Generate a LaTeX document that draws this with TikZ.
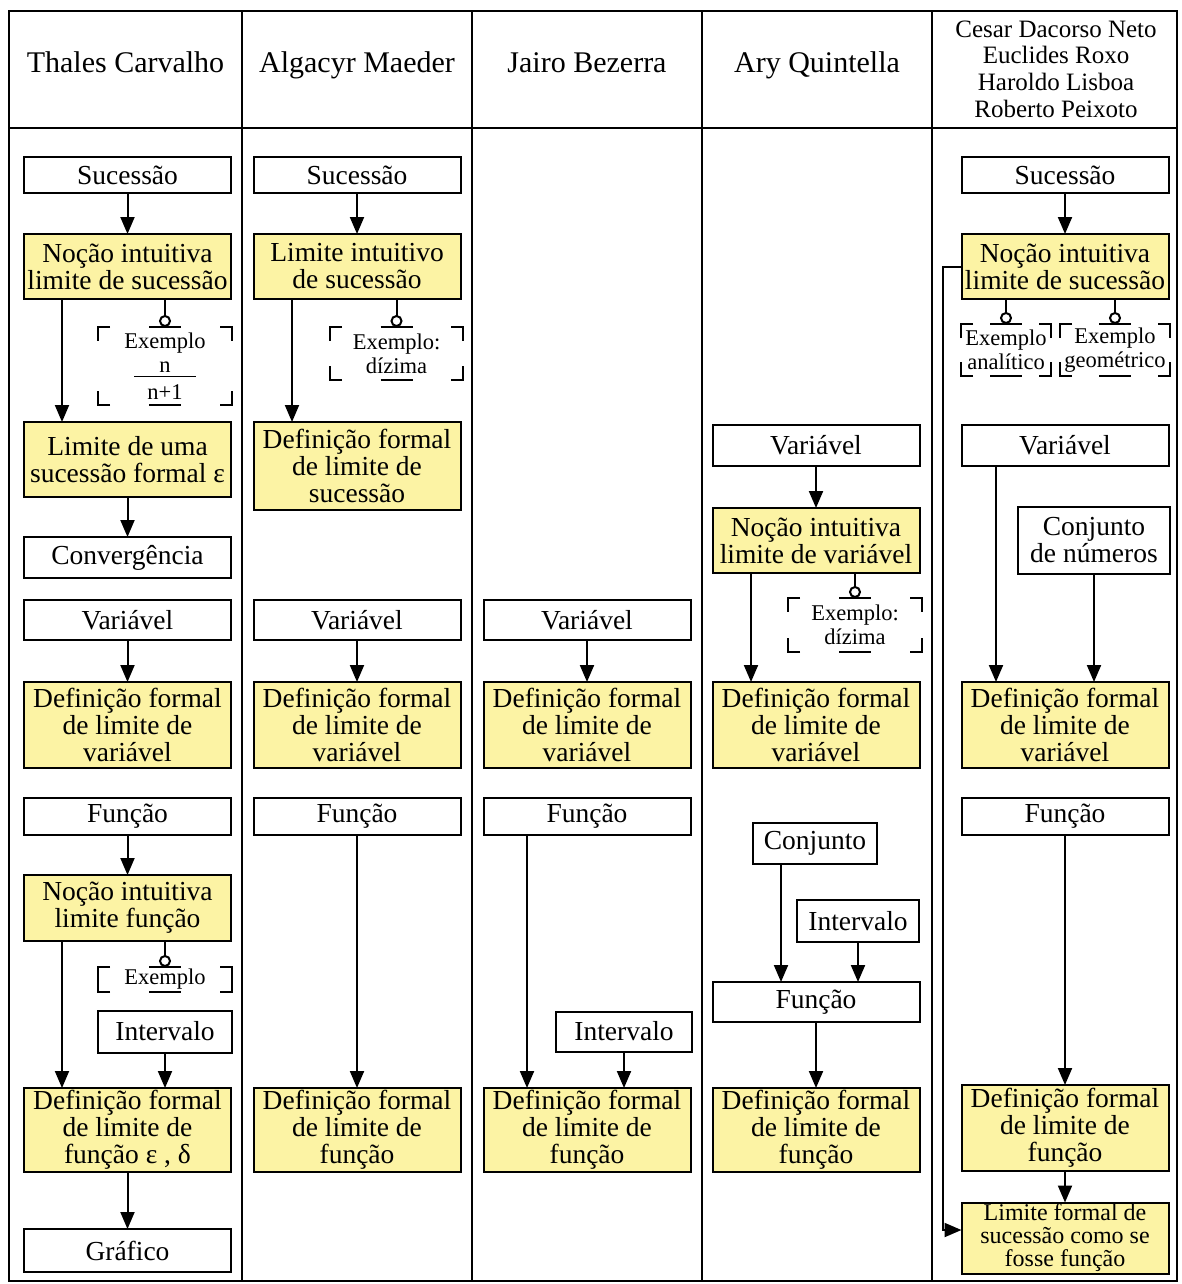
\documentclass[tikz,border=0pt]{standalone}
\usepackage{fontspec}
\setmainfont{Liberation Serif}
\usetikzlibrary{arrows.meta}
\definecolor{boxyellow}{RGB}{252,243,164}
\newcommand{\calloutframe}[1]{%
  \draw[brk] ([xshift=12pt]#1.north west) -- (#1.north west) -- ([yshift=-14pt]#1.north west);
  \draw[brk] ([xshift=-12pt]#1.north east) -- (#1.north east) -- ([yshift=-14pt]#1.north east);
  \draw[brk] ([xshift=12pt]#1.south west) -- (#1.south west) -- ([yshift=14pt]#1.south west);
  \draw[brk] ([xshift=-12pt]#1.south east) -- (#1.south east) -- ([yshift=14pt]#1.south east);
  \draw[brk] ([xshift=-16pt]#1.north) -- ([xshift=16pt]#1.north);
  \draw[brk] ([xshift=-16pt]#1.south) -- ([xshift=16pt]#1.south);
}
\newcommand{\lollipop}[2]{%
  \draw[ln] (#1.south -| #2.north) -- ([yshift=10pt]#2.north);
  \draw[ln, fill=white] ([yshift=6pt]#2.north) circle[radius=5pt];
}
\begin{document}
\begin{tikzpicture}[x=1pt,y=-1pt,
  every node/.style={inner sep=0pt, outer sep=0pt},
  bx/.style={draw, line width=2pt, align=center, font=\fontsize{27.5}{27}\selectfont, minimum width=207pt},
  yb/.style={bx, fill=boxyellow},
  wb/.style={bx, fill=white},
  callout/.style={align=center, font=\fontsize{22.5}{24}\selectfont},
  hdr/.style={font=\fontsize{30}{32}\selectfont, anchor=base},
  arr/.style={line width=2pt, -{Triangle[length=17pt,width=14pt]}},
  ln/.style={line width=2pt},
  brk/.style={line width=2.2pt},
]
\useasboundingbox (0,0) rectangle (1181,1284);
\fill[white] (0,0) rectangle (1181,1284);

% table
\draw[line width=2.5pt] (9,11) rectangle (1177,1281);
\draw[line width=2.5pt] (9,128) -- (1177,128);
\foreach \xx in {242,472,702,932} \draw[line width=2.5pt] (\xx,11) -- (\xx,1281);

% headers
\node[hdr] (h1) at (125.5,73) {Thales Carvalho};
\node[hdr] (h2) at (357,73) {Algacyr Maeder};
\node[hdr] (h3) at (587,73) {Jairo Bezerra};
\node[hdr] (h4) at (817,73) {Ary Quintella};
\node[align=center, font=\fontsize{25}{26.7}\selectfont] (h5) at (1056,69) {Cesar Dacorso Neto\\Euclides Roxo\\Haroldo Lisboa\\Roberto Peixoto};

% ---------- column 1
\node[wb, minimum height=36pt] (c1suc) at (127.5,175) {Sucessão};
\node[yb, minimum height=65pt] (c1noc) at (127.5,266.5) {Noção intuitiva\\limite de sucessão};
\node[callout, minimum width=134pt, minimum height=78pt] (c1ex) at (165,366) {Exemplo\\n\\[-19pt]\rule{62pt}{1.2pt}\\[-2pt]n+1};
\node[yb, minimum height=75pt] (c1lim) at (127.5,459.5) {Limite de uma\\sucessão formal ε};
\node[wb, minimum height=41pt] (c1conv) at (127.5,557.5) {Convergência};
\node[wb, minimum height=40pt] (c1var) at (127.5,620) {Variável};
\node[yb, minimum height=86pt] (c1defv) at (127.5,725) {Definição formal\\de limite de\\variável};
\node[wb, minimum height=37pt] (c1fun) at (127.5,816.5) {Função};
\node[yb, minimum height=66pt] (c1nocf) at (127.5,908) {Noção intuitiva\\limite função};
\node[callout, minimum width=134pt, minimum height=25pt] (c1ex2) at (165,979.5) {Exemplo};
\node[wb, minimum width=134pt, minimum height=42pt] (c1int) at (165,1031.5) {Intervalo};
\node[yb, minimum height=84pt] (c1deff) at (127.5,1130) {Definição formal\\de limite de\\função ε , δ};
\node[wb, minimum height=43pt] (c1graf) at (127.5,1250.5) {Gráfico};

\draw[arr] (c1suc) -- (c1noc);
\lollipop{c1noc}{c1ex}
\calloutframe{c1ex}
\draw[arr] ([xshift=-65.5pt]c1noc.south) -- ([xshift=-65.5pt]c1lim.north);
\draw[arr] (c1lim) -- (c1conv);
\draw[arr] (c1var) -- (c1defv);
\draw[arr] (c1fun) -- (c1nocf);
\lollipop{c1nocf}{c1ex2}
\calloutframe{c1ex2}
\draw[arr] ([xshift=-65.5pt]c1nocf.south) -- ([xshift=-65.5pt]c1deff.north);
\draw[arr] (c1int.south) -- (c1int.south |- c1deff.north);
\draw[arr] (c1deff) -- (c1graf);

% ---------- column 2
\node[wb, minimum height=36pt] (c2suc) at (357,175) {Sucessão};
\node[yb, minimum height=65pt] (c2lim) at (357,266.5) {Limite intuitivo\\de sucessão};
\node[callout, minimum width=133pt, minimum height=53pt] (c2ex) at (396.5,353.5) {Exemplo:\\dízima};
\node[yb, minimum height=88pt] (c2def) at (357,466) {Definição formal\\de limite de\\sucessão};
\node[wb, minimum height=40pt] (c2var) at (357,620) {Variável};
\node[yb, minimum height=86pt] (c2defv) at (357,725) {Definição formal\\de limite de\\variável};
\node[wb, minimum height=37pt] (c2fun) at (357,816.5) {Função};
\node[yb, minimum height=84pt] (c2deff) at (357,1130) {Definição formal\\de limite de\\função};

\draw[arr] (c2suc) -- (c2lim);
\lollipop{c2lim}{c2ex}
\calloutframe{c2ex}
\draw[arr] ([xshift=-65pt]c2lim.south) -- ([xshift=-65pt]c2def.north);
\draw[arr] (c2var) -- (c2defv);
\draw[arr] (c2fun) -- (c2deff);

% ---------- column 3
\node[wb, minimum height=40pt] (c3var) at (587,620) {Variável};
\node[yb, minimum height=86pt] (c3defv) at (587,725) {Definição formal\\de limite de\\variável};
\node[wb, minimum height=37pt] (c3fun) at (587,816.5) {Função};
\node[wb, minimum width=136pt, minimum height=40pt] (c3int) at (624,1031.5) {Intervalo};
\node[yb, minimum height=84pt] (c3deff) at (587,1130) {Definição formal\\de limite de\\função};

\draw[arr] (c3var) -- (c3defv);
\draw[arr] ([xshift=-60pt]c3fun.south) -- ([xshift=-60pt]c3deff.north);
\draw[arr] (c3int.south) -- (c3int.south |- c3deff.north);

% ---------- column 4
\node[wb, minimum height=41pt] (c4var) at (816,445.5) {Variável};
\node[yb, minimum height=65pt] (c4noc) at (816,540.5) {Noção intuitiva\\limite de variável};
\node[callout, minimum width=134pt, minimum height=54pt] (c4ex) at (855,625) {Exemplo:\\dízima};
\node[yb, minimum height=86pt] (c4defv) at (816,725) {Definição formal\\de limite de\\variável};
\node[wb, minimum width=124pt, minimum height=41pt] (c4conj) at (815,843.5) {Conjunto};
\node[wb, minimum width=122pt, minimum height=42pt] (c4int) at (858,921) {Intervalo};
\node[wb, minimum height=40pt] (c4fun) at (816,1002) {Função};
\node[yb, minimum height=84pt] (c4deff) at (816,1130) {Definição formal\\de limite de\\função};

\draw[arr] (c4var) -- (c4noc);
\lollipop{c4noc}{c4ex}
\calloutframe{c4ex}
\draw[arr] ([xshift=-65pt]c4noc.south) -- ([xshift=-65pt]c4defv.north);
\draw[arr] ([xshift=-34pt]c4conj.south) -- ([xshift=-34pt]c4conj.south |- c4fun.north);
\draw[arr] (c4int.south) -- (c4int.south |- c4fun.north);
\draw[arr] (c4fun) -- (c4deff);

% ---------- column 5
\node[wb, minimum height=36pt] (c5suc) at (1065,175) {Sucessão};
\node[yb, minimum height=65pt] (c5noc) at (1065,266.5) {Noção intuitiva\\limite de sucessão};
\node[callout, minimum width=90pt, minimum height=52pt] (c5exa) at (1006,350) {Exemplo\\analítico};
\node[callout, minimum width=110pt, minimum height=52pt] (c5exg) at (1115,350) {Exemplo\\geométrico};
\node[wb, minimum height=41pt] (c5var) at (1065,445.5) {Variável};
\node[wb, minimum width=152pt, minimum height=67pt] (c5conj) at (1094,540.5) {Conjunto\\de números};
\node[yb, minimum height=86pt] (c5defv) at (1065,725) {Definição formal\\de limite de\\variável};
\node[wb, minimum height=37pt] (c5fun) at (1065,816.5) {Função};
\node[yb, minimum height=86pt] (c5deff) at (1065,1128) {Definição formal\\de limite de\\função};
\node[yb, minimum height=71pt, font=\fontsize{24}{23}\selectfont] (c5lim) at (1065,1238) {Limite formal de\\sucessão como se\\fosse função};
\coordinate (loopx) at (943,0);

\draw[arr] (c5suc) -- (c5noc);
\lollipop{c5noc}{c5exa}
\calloutframe{c5exa}
\lollipop{c5noc}{c5exg}
\calloutframe{c5exg}
\draw[arr] ([xshift=-69pt]c5var.south) -- ([xshift=-69pt]c5defv.north);
\draw[arr] (c5conj.south) -- (c5conj.south |- c5defv.north);
\draw[arr] (c5fun) -- (c5deff);
\draw[arr] (c5deff) -- (c5lim);
\draw[arr] (c5noc.west) -- (c5noc.west -| loopx) -- ([yshift=8pt]c5lim.west -| loopx) -- ([yshift=8pt]c5lim.west);
\end{tikzpicture}
\end{document}
